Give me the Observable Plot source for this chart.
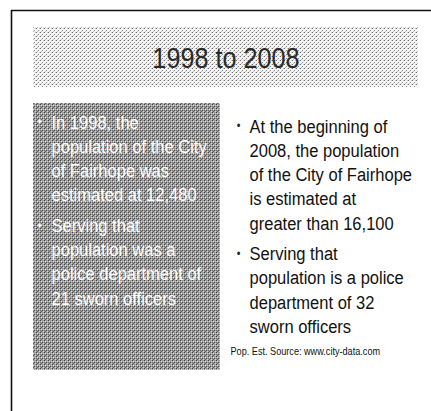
<!DOCTYPE html>
<html>
<head>
<meta charset="utf-8">
<script src="https://cdn.jsdelivr.net/npm/d3@7"></script>
<script src="https://cdn.jsdelivr.net/npm/@observablehq/plot@0.6"></script>
<style>
  html, body { margin: 0; padding: 0; background: #fff; }
  #chart svg { display: block; }
</style>
</head>
<body>
<div id="chart"></div>
<script>
// ---- content (text only) ----
const slideTitle = "1998 to 2008";
const leftBullets = [
  ["In 1998, the", "population of the City", "of Fairhope was", "estimated at 12,480"],
  ["Serving that", "population was a", "police department of", "21 sworn officers"]
];
const rightBullets = [
  ["At the beginning of", "2008, the population", "of the City of Fairhope", "is estimated at", "greater than 16,100"],
  ["Serving that", "population is a police", "department of 32", "sworn officers"]
];
const sourceNote = "Pop. Est. Source: www.city-data.com";

// ---- layout ----
const W = 431, H = 411;
const layout = {
  frameX: 11, frameY: 10,
  band: {x1: 33, x2: 418, y1: 27, y2: 87},
  panel: {x1: 33, x2: 220, y1: 103, y2: 370},
  left: {bulletX: 39, textX: 51, top: 122},
  right: {bulletX: 238, textX: 249, top: 126},
  lineH: 24.3, bulletGap: 6
};

function linesOf(bullets, col) {
  const out = [];
  let k = 0;
  bullets.forEach((b, bi) => {
    b.forEach((line, li) => {
      const y = col.top + k * layout.lineH + bi * layout.bulletGap;
      out.push({text: line, x: col.textX, y, first: li === 0, bx: col.bulletX});
      k++;
    });
  });
  return out;
}
const leftLines = linesOf(leftBullets, layout.left);
const rightLines = linesOf(rightBullets, layout.right);
const lastRight = rightLines[rightLines.length - 1];

const font = "Liberation Sans, Arial, sans-serif";

const svg = Plot.plot({
  width: W, height: H,
  margin: 0,
  x: {domain: [0, W], range: [0, W], axis: null},
  y: {domain: [0, H], range: [0, H], axis: null},
  style: {fontFamily: font, background: "#fff"},
  marks: [
    Plot.rect([layout.band], {x1: "x1", x2: "x2", y1: "y1", y2: "y2", fill: "url(#halftoneLight)"}),
    Plot.rect([layout.panel], {x1: "x1", x2: "x2", y1: "y1", y2: "y2", fill: "url(#halftoneDark)"}),
    Plot.ruleX([layout.frameX], {y1: layout.frameY, y2: H, stroke: "#111", strokeWidth: 1.6}),
    Plot.ruleY([layout.frameY], {x1: layout.frameX, x2: W, stroke: "#111", strokeWidth: 1.6}),
    Plot.text([slideTitle], {
      x: () => (layout.band.x1 + layout.band.x2) / 2,
      y: () => (layout.band.y1 + layout.band.y2) / 2 + 1,
      text: d => d, fontSize: 29, fill: "#2a2a2a", textAnchor: "middle"
    }),
    // left panel text (white)
    Plot.text(leftLines.filter(d => d.first), {x: "bx", y: "y", text: () => "•", fontSize: 12, fill: "#fff", textAnchor: "middle"}),
    Plot.text(leftLines, {x: "x", y: "y", text: "text", fontSize: 19, fill: "#fff", textAnchor: "start"}),
    // right column text
    Plot.text(rightLines.filter(d => d.first), {x: "bx", y: "y", text: () => "•", fontSize: 12, fill: "#222", textAnchor: "middle"}),
    Plot.text(rightLines, {x: "x", y: "y", text: "text", fontSize: 19, fill: "#111", textAnchor: "start"}),
    Plot.text([sourceNote], {
      x: () => layout.right.textX - 19,
      y: () => lastRight.y + 25,
      text: d => d, fontSize: 10.5, fill: "#111", textAnchor: "start"
    })
  ]
});

// halftone patterns
const defs = d3.select(svg).insert("defs", ":first-child");
function pattern(id, base, pix) {
  const p = defs.append("pattern").attr("id", id).attr("patternUnits", "userSpaceOnUse")
    .attr("width", 4).attr("height", 4);
  p.append("rect").attr("width", 4).attr("height", 4).attr("fill", base);
  pix.forEach(([x, y, c]) => p.append("rect").attr("x", x).attr("y", y).attr("width", 1).attr("height", 1).attr("fill", c));
}
pattern("halftoneLight", "#f4f4f4", [[0,0,"#6e6e6e"],[2,2,"#8a8a8a"],[3,0,"#c8c8c8"],[1,3,"#bcbcbc"]]);
pattern("halftoneDark", "#9c9c9c", [[0,0,"#444"],[2,2,"#505050"],[1,3,"#606060"],[1,1,"#e2e2e2"],[3,3,"#d6d6d6"],[3,1,"#c8c8c8"],[0,2,"#707070"]]);

// slightly condensed glyphs like the reference rendering
d3.select(svg).selectAll("text").each(function() {
  const t = this.getAttribute("transform") || "";
  const x = +this.getAttribute("x") || 0;
  this.setAttribute("transform", `${t} translate(${x},0) scale(0.87,1) translate(${-x},0)`);
});

document.getElementById("chart").appendChild(svg);
</script>
</body>
</html>
